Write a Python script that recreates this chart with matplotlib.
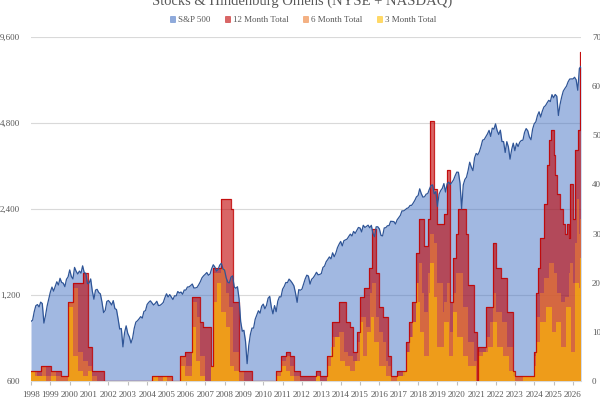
import numpy as np
import matplotlib.pyplot as plt
from matplotlib.patches import Patch
from matplotlib.ticker import FixedLocator, NullLocator, FuncFormatter

plt.rcParams['font.family'] = ['Liberation Serif', 'DejaVu Serif']

# S&P 500 month-end closes, Dec 1997 .. May 2026
sp500 = [
    970,
    980, 1049, 1101, 1111, 1090, 1133, 1120, 957, 1017, 1098, 1163, 1229,     # 1998
    1279, 1238, 1286, 1335, 1301, 1373, 1328, 1320, 1283, 1362, 1389, 1469,   # 1999
    1394, 1366, 1499, 1452, 1421, 1455, 1431, 1518, 1437, 1429, 1315, 1320,   # 2000
    1366, 1240, 1160, 1249, 1256, 1224, 1211, 1134, 1041, 1060, 1139, 1148,   # 2001
    1130, 1107, 1147, 1076, 1067, 990, 912, 916, 790, 886, 936, 880,          # 2002
    856, 815, 848, 917, 964, 975, 990, 1008, 996, 1051, 1058, 1112,           # 2003
    1131, 1145, 1126, 1107, 1121, 1141, 1102, 1104, 1115, 1130, 1174, 1212,   # 2004
    1181, 1204, 1181, 1157, 1192, 1191, 1234, 1220, 1229, 1207, 1249, 1248,   # 2005
    1280, 1281, 1295, 1311, 1270, 1270, 1277, 1304, 1336, 1378, 1401, 1418,   # 2006
    1438, 1407, 1421, 1482, 1531, 1503, 1455, 1474, 1527, 1549, 1481, 1468,   # 2007
    1379, 1331, 1323, 1386, 1400, 1280, 1267, 1283, 1165, 969, 896, 903,      # 2008
    826, 690, 798, 873, 919, 919, 987, 1021, 1057, 1036, 1096, 1115,          # 2009
    1074, 1104, 1169, 1187, 1089, 1031, 1102, 1049, 1141, 1183, 1181, 1258,   # 2010
    1286, 1327, 1326, 1364, 1345, 1321, 1292, 1219, 1131, 1253, 1247, 1258,   # 2011
    1312, 1366, 1408, 1398, 1310, 1362, 1379, 1407, 1441, 1412, 1416, 1426,   # 2012
    1498, 1515, 1569, 1598, 1631, 1606, 1686, 1633, 1682, 1757, 1806, 1848,   # 2013
    1783, 1859, 1872, 1884, 1924, 1960, 1931, 2003, 1972, 2018, 2068, 2059,   # 2014
    1995, 2105, 2068, 2086, 2107, 2063, 2104, 1972, 1920, 2079, 2080, 2044,   # 2015
    1940, 1932, 2060, 2065, 2097, 2099, 2174, 2171, 2168, 2126, 2199, 2239,   # 2016
    2279, 2364, 2363, 2384, 2412, 2423, 2470, 2472, 2519, 2575, 2648, 2674,   # 2017
    2824, 2714, 2641, 2648, 2705, 2718, 2816, 2902, 2914, 2712, 2760, 2450,   # 2018
    2704, 2784, 2834, 2946, 2752, 2942, 2980, 2926, 2977, 3038, 3141, 3231,   # 2019
    3226, 2954, 2400, 2912, 3044, 3100, 3271, 3500, 3363, 3270, 3622, 3756,   # 2020
    3714, 3811, 3973, 4181, 4204, 4298, 4395, 4523, 4308, 4605, 4567, 4766,   # 2021
    4516, 4374, 4530, 4132, 4132, 3785, 4130, 3955, 3586, 3872, 4080, 3840,   # 2022
    4077, 3970, 4109, 4169, 4180, 4450, 4589, 4508, 4288, 4194, 4568, 4770,   # 2023
    4846, 5096, 5254, 5036, 5278, 5460, 5522, 5648, 5762, 5705, 6032, 5882,   # 2024
    6041, 5955, 5100, 5569, 5912, 6205, 6339, 6460, 6688, 6840, 6849, 6845,   # 2025
    6940, 6800, 6250, 7450, 7580,                                             # 2026
]
sp_dates = 1998 + np.arange(len(sp500)) / 12
x_end = sp_dates[-1]

# Hindenburg omen rolling totals, (decimal year, count) step points
omen12 = [
    (1998.00, 2), (1998.53, 3), (1999.05, 2), (1999.57, 1), (1999.90, 16), (2000.17, 20),
    (2000.70, 22), (2000.92, 7), (2001.13, 2), (2001.78, 0), (2004.27, 1), (2005.27, 0),
    (2005.70, 5), (2005.98, 6), (2006.30, 17), (2006.73, 12), (2006.90, 11), (2007.28, 3),
    (2007.38, 23), (2007.80, 37), (2008.33, 35), (2008.42, 16), (2008.77, 2), (2009.43, 0),
    (2010.64, 2), (2010.90, 5), (2011.20, 6), (2011.40, 5), (2011.60, 2), (2011.90, 1),
    (2012.75, 2), (2012.95, 1), (2013.30, 5), (2013.55, 12), (2013.90, 16), (2014.25, 12),
    (2014.50, 11), (2014.65, 6), (2014.85, 10), (2015.00, 17), (2015.20, 19), (2015.45, 23),
    (2015.60, 31), (2015.85, 22), (2016.00, 15), (2016.20, 13), (2016.45, 5), (2016.60, 1),
    (2016.90, 2), (2017.40, 8), (2017.55, 12), (2017.70, 16), (2017.88, 26), (2018.05, 33),
    (2018.33, 27.5), (2018.50, 33), (2018.63, 53), (2018.83, 39), (2019.00, 32), (2019.35, 34),
    (2019.50, 43), (2019.65, 16), (2019.80, 25), (2019.95, 30), (2020.05, 35), (2020.45, 30),
    (2020.56, 19.5), (2020.90, 10), (2021.05, 0), (2021.12, 7), (2021.50, 15), (2021.86, 28),
    (2022.03, 23), (2022.29, 21), (2022.60, 14), (2022.89, 2), (2023.00, 1), (2024.00, 6),
    (2024.10, 18), (2024.20, 23), (2024.30, 29), (2024.50, 36), (2024.65, 44), (2024.75, 49),
    (2024.88, 51), (2025.00, 46), (2025.08, 42), (2025.20, 38), (2025.33, 35), (2025.47, 32),
    (2025.60, 30), (2025.70, 32), (2025.78, 29), (2025.87, 40), (2025.98, 33), (2026.12, 47),
    (2026.25, 51), (2026.37, 67),
]
omen6 = [
    (1998.00, 2), (1998.30, 1), (1998.55, 3), (1998.80, 1), (1999.05, 2), (1999.30, 1),
    (1999.90, 16), (2000.17, 19), (2000.42, 6), (2000.70, 4), (2000.92, 3), (2001.13, 1),
    (2001.40, 0), (2004.27, 1), (2005.27, 0), (2005.70, 5), (2006.00, 3), (2006.30, 16),
    (2006.60, 13), (2006.73, 5), (2007.00, 0), (2007.28, 3), (2007.38, 22), (2007.80, 23),
    (2008.05, 18), (2008.25, 15), (2008.42, 6), (2008.77, 2), (2009.00, 0), (2010.64, 2),
    (2010.90, 4), (2011.20, 5), (2011.40, 3), (2011.60, 1), (2011.90, 0), (2012.75, 1),
    (2012.95, 0), (2013.30, 5), (2013.55, 9), (2013.90, 10), (2014.15, 6), (2014.40, 5),
    (2014.65, 4), (2014.85, 8), (2015.00, 13), (2015.30, 11), (2015.50, 18), (2015.60, 20),
    (2015.85, 13), (2016.00, 10), (2016.20, 8), (2016.35, 4), (2016.45, 3), (2016.60, 1),
    (2017.30, 2), (2017.40, 6), (2017.55, 9), (2017.70, 12), (2017.88, 20), (2018.05, 24),
    (2018.20, 18), (2018.33, 14), (2018.50, 22), (2018.63, 30), (2018.83, 28), (2019.00, 20),
    (2019.30, 14), (2019.35, 16), (2019.50, 20), (2019.65, 10), (2019.80, 18), (2019.95, 22),
    (2020.30, 15), (2020.56, 8), (2020.90, 4), (2021.05, 0), (2021.12, 6), (2021.50, 9),
    (2021.70, 12), (2021.86, 18), (2022.03, 14), (2022.35, 12), (2022.60, 7), (2022.89, 1),
    (2024.00, 5), (2024.10, 13), (2024.30, 18), (2024.50, 21), (2024.75, 24), (2025.00, 22),
    (2025.20, 18), (2025.40, 16), (2025.60, 17), (2025.78, 22), (2025.87, 24), (2025.98, 20),
    (2026.12, 28), (2026.20, 37), (2026.30, 30), (2026.37, 33),
]
omen3 = [
    (1998.00, 2), (1998.20, 1), (1998.75, 0), (1999.05, 1), (1999.30, 0), (1999.90, 15),
    (2000.17, 5), (2000.42, 2), (2000.70, 1), (2000.92, 2), (2001.13, 0), (2004.30, 1),
    (2004.55, 0), (2004.80, 1), (2005.05, 0), (2005.70, 3), (2005.95, 1), (2006.30, 11),
    (2006.55, 4), (2006.75, 1), (2007.00, 0), (2007.30, 3), (2007.45, 16), (2007.60, 20),
    (2007.80, 14), (2008.10, 11), (2008.30, 3), (2008.50, 2), (2008.77, 0), (2010.64, 1),
    (2010.90, 3), (2011.15, 2), (2011.40, 1), (2011.60, 0), (2012.75, 1), (2012.95, 0),
    (2013.30, 3), (2013.50, 7), (2013.70, 9), (2013.95, 4), (2014.20, 3), (2014.50, 2),
    (2014.75, 4), (2015.00, 12), (2015.15, 5), (2015.35, 10), (2015.55, 13), (2015.70, 8),
    (2016.00, 3), (2016.35, 1), (2016.60, 0), (2016.90, 1), (2017.20, 2), (2017.45, 6),
    (2017.60, 9), (2017.75, 12), (2017.88, 16), (2017.93, 20), (2017.98, 16), (2018.10, 10),
    (2018.30, 5), (2018.55, 18), (2018.63, 24), (2018.83, 17), (2019.00, 7), (2019.35, 12),
    (2019.60, 5), (2019.80, 14), (2020.00, 9), (2020.30, 5), (2020.60, 3), (2021.00, 0),
    (2021.12, 5), (2021.35, 6), (2021.60, 7), (2021.86, 12), (2022.10, 7), (2022.40, 5),
    (2022.70, 2), (2023.00, 0), (2023.40, 1), (2024.00, 3), (2024.10, 8), (2024.30, 12),
    (2024.60, 15), (2024.90, 10), (2025.10, 12), (2025.40, 7), (2025.65, 15), (2025.90, 6),
    (2026.12, 20), (2026.30, 19), (2026.37, 25),
]

years = list(range(1998, 2027))
left_ticks = [600, 1200, 2400, 4800, 9600]
right_ticks = list(range(0, 80, 10))

TXT = '#595959'
GRID = '#d9d9d9'
BLUE, BLUE_LINE = '#4472C4', '#2F5597'
RED, ORANGE, GOLD = '#C00000', '#ED7D31', '#FFC000'


def steps(points):
    t = [p[0] for p in points] + [x_end]
    v = [p[1] for p in points] + [points[-1][1]]
    return np.array(t), np.array(v)


fig = plt.figure(figsize=(6, 4.03), dpi=100)
ax = fig.add_axes([31 / 600, 1 - 381 / 403, 550 / 600, 344 / 403])

# S&P 500 area (log scale, left axis)
ax.fill_between(sp_dates, 600, sp500, color=BLUE, alpha=0.5, lw=0)
ax.set_yscale('log')
ax.set_ylim(600, 9600)
ax.set_xlim(1998, x_end)
ax.yaxis.set_major_locator(FixedLocator(left_ticks))
ax.yaxis.set_minor_locator(NullLocator())
ax.yaxis.set_major_formatter(FuncFormatter(lambda v, p: f'{v:,.0f}'))
ax.yaxis.grid(True, color=GRID, lw=0.8)
ax.set_axisbelow(True)
ax.set_xticks(years)
ax.set_xticklabels([str(y) for y in years])
ax.tick_params(axis='x', length=3, color='#bfbfbf', labelsize=6.5, labelcolor=TXT, pad=4)
ax.tick_params(axis='y', length=0, labelsize=6.5, labelcolor=TXT, pad=8)
for s in ['top', 'left', 'right']:
    ax.spines[s].set_visible(False)
ax.spines['bottom'].set_color(GRID)

# omen totals (right axis)
ax2 = ax.twinx()
for pts, col, edge in [(omen12, RED, True), (omen6, ORANGE, False), (omen3, GOLD, False)]:
    t, v = steps(pts)
    ax2.fill_between(t, 0, v, step='post', color=col, alpha=0.6, lw=0)
    if edge:
        ax2.step(t, v, where='post', color=RED, lw=0.9, alpha=0.85)
ax2.set_ylim(0, 70)
ax2.set_yticks(right_ticks)
ax2.tick_params(axis='y', length=0, labelsize=6.5, labelcolor=TXT, pad=8)
for s in ax2.spines.values():
    s.set_visible(False)

# S&P 500 line on top
ax3 = ax.twinx()
ax3.plot(sp_dates, sp500, color=BLUE_LINE, lw=0.9)
ax3.set_yscale('log')
ax3.set_ylim(600, 9600)
ax3.axis('off')

fig.text(302 / 600, 1 - 4.5 / 403, 'Stocks & Hindenburg Omens (NYSE + NASDAQ)',
         ha='center', va='baseline', fontsize=10.5, color=TXT)

handles = [
    Patch(facecolor=BLUE, edgecolor=BLUE, alpha=0.6, lw=0.5),
    Patch(facecolor=RED, edgecolor=RED, alpha=0.6, lw=0.5),
    Patch(facecolor=ORANGE, edgecolor=ORANGE, alpha=0.6, lw=0.5),
    Patch(facecolor=GOLD, edgecolor=GOLD, alpha=0.6, lw=0.5),
]
labels = ['S&P 500', '12 Month Total', '6 Month Total', '3 Month Total']
fig.legend(handles, labels, loc='center', bbox_to_anchor=(303 / 600, 1 - 20 / 403), ncol=4,
           frameon=False, fontsize=6.5, handlelength=0.6, handleheight=0.6,
           handletextpad=0.3, columnspacing=1.6, labelcolor=TXT)

plt.savefig('out.png', dpi=100)
